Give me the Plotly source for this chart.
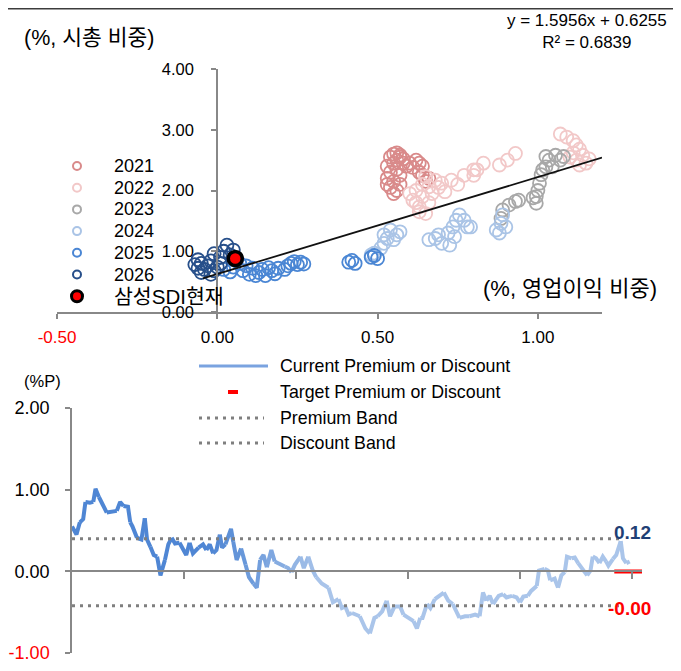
import plotly.graph_objects as go

W, H = 681, 671
OFF = 8                      # the page body margin the browser adds around the figure
FW, FH = W - OFF, H - OFF    # figure size so that it fills the window
FONT = "Liberation Sans, Arial, Noto Sans CJK KR, sans-serif"

# ---------------- data: scatter (operating-profit share vs market-cap share) -------------
years = ["2021", "2022", "2023", "2024", "2025", "2026"]
year_colors = ["#d98a8a", "#f2c8c8", "#a8a8a8", "#aac4e6", "#4a86d4", "#274f8a"]

x_2021 = [0.54, 0.55, 0.56, 0.57, 0.55, 0.53, 0.56, 0.58, 0.54, 0.53, 0.55, 0.54, 0.56, 0.53, 0.57,
          0.59, 0.60, 0.62, 0.63, 0.64, 0.63, 0.64, 0.66, 0.65, 0.57, 0.56, 0.58, 0.61, 0.55, 0.57]
y_2021 = [2.55, 2.60, 2.50, 2.58, 2.45, 2.40, 2.35, 2.45, 2.30, 2.20, 2.15, 2.05, 2.00, 2.10, 2.25,
          2.40, 2.45, 2.50, 2.45, 2.40, 2.30, 2.25, 2.20, 2.15, 2.55, 2.62, 2.52, 2.38, 1.95, 2.10]

x_2022 = [0.62, 0.64, 0.63, 0.65, 0.66, 0.68, 0.61, 0.65, 0.60, 0.62, 0.64, 0.66, 0.67, 0.63, 0.69,
          0.70, 0.73, 0.77, 0.80, 0.81, 0.83, 0.88, 0.905, 0.93, 0.80, 0.75, 0.71,
          1.07, 1.09, 1.11, 1.12, 1.13, 1.11, 1.14, 1.12, 1.15, 1.13, 1.10, 1.16]
y_2022 = [2.00, 1.90, 1.73, 1.62, 2.06, 2.17, 1.84, 2.23, 1.95, 1.80, 2.10, 1.80, 1.95, 1.65, 2.05,
          2.12, 2.17, 2.25, 2.34, 2.34, 2.45, 2.42, 2.50, 2.61, 2.25, 2.10, 1.98,
          2.93, 2.88, 2.82, 2.75, 2.68, 2.62, 2.58, 2.50, 2.45, 2.42, 2.55, 2.52]

x_2023 = [0.89, 0.91, 0.93, 0.885, 0.94, 0.995, 1.00, 1.005, 1.01, 1.025, 1.035, 1.055, 1.07, 1.025,
          0.985, 0.995, 1.045, 1.08, 1.015]
y_2023 = [1.68, 1.76, 1.82, 1.54, 1.84, 1.90, 2.00, 2.12, 2.26, 2.39, 2.50, 2.58, 2.50, 2.56,
          1.88, 1.79, 2.39, 2.56, 2.34]

x_2024 = [0.54, 0.56, 0.53, 0.52, 0.51, 0.49, 0.48, 0.57, 0.55, 0.52,
          0.66, 0.68, 0.70, 0.72, 0.735, 0.745, 0.755, 0.77, 0.78, 0.74, 0.725, 0.69, 0.79,
          0.87, 0.885, 0.89, 0.88, 0.90]
y_2024 = [1.35, 1.27, 1.21, 1.13, 1.05, 0.97, 0.94, 1.32, 1.19, 1.27,
          1.19, 1.21, 1.13, 1.30, 1.40, 1.51, 1.60, 1.51, 1.40, 1.24, 1.10, 1.27, 1.40,
          1.35, 1.46, 1.60, 1.30, 1.40]

x_2025 = [0.02, 0.05, 0.07, 0.08, 0.10, 0.11, 0.13, 0.14, 0.15, 0.17, 0.18, 0.19, 0.21, 0.22, 0.23,
          0.24, 0.25, 0.26, 0.27, 0.04, 0.09, 0.16, 0.12, 0.41, 0.42, 0.43, 0.48, 0.49, 0.50]
y_2025 = [0.70, 0.74, 0.80, 0.68, 0.62, 0.72, 0.65, 0.70, 0.60, 0.68, 0.63, 0.72, 0.70, 0.76, 0.80,
          0.83, 0.78, 0.82, 0.79, 0.66, 0.76, 0.73, 0.60, 0.82, 0.85, 0.80, 0.90, 0.93, 0.88]

x_2026 = [-0.07, -0.06, -0.05, -0.04, -0.03, -0.02, -0.01, 0.00, 0.01, -0.05, -0.02, 0.01, 0.02, 0.03,
          0.05, 0.04, -0.01, 0.06, -0.06]
y_2026 = [0.78, 0.72, 0.80, 0.70, 0.76, 0.84, 0.68, 0.74, 0.80, 0.65, 0.62, 0.90, 1.00, 1.10,
          1.02, 0.94, 0.96, 0.86, 0.86]

year_x = [x_2021, x_2022, x_2023, x_2024, x_2025, x_2026]
year_y = [y_2021, y_2022, y_2023, y_2024, y_2025, y_2026]

current_label = "삼성SDI현재"
current_x = [0.056]
current_y = [0.88]

slope, intercept, r2 = 1.5956, 0.6255, 0.6839
fit_x = [-0.045, 1.20]

top_x_ticks = [-0.5, 0.0, 0.5, 1.0]
top_y_ticks = [0, 1, 2, 3, 4]

# ---------------- data: premium / discount time series --------------------------------
t_years = [0.00, 0.04, 0.07, 0.10, 0.12, 0.16, 0.19, 0.21, 0.24, 0.27, 0.31, 0.37, 0.40, 0.43, 0.46,
           0.50, 0.52, 0.54, 0.58, 0.62, 0.65, 0.67, 0.70, 0.73, 0.76, 0.79, 0.83, 0.86, 0.89, 0.92,
           0.96, 1.02, 1.05, 1.08, 1.13, 1.17, 1.20, 1.23, 1.26, 1.29, 1.32, 1.34, 1.37, 1.42, 1.44,
           1.47, 1.51, 1.54, 1.55, 1.58, 1.62, 1.65, 1.68, 1.71, 1.74, 1.78, 1.81, 1.86, 1.90, 1.93,
           1.96, 1.99, 2.04, 2.07, 2.11, 2.15, 2.18, 2.23, 2.29, 2.33, 2.38, 2.41, 2.44, 2.47, 2.50,
           2.54, 2.57, 2.62, 2.66, 2.70, 2.73, 2.77, 2.81, 2.84, 2.88, 2.93, 2.96, 3.00, 3.05, 3.08,
           3.11, 3.13, 3.17, 3.20, 3.24, 3.29, 3.32, 3.36, 3.40, 3.43, 3.46, 3.51, 3.55, 3.60, 3.64,
           3.67, 3.70, 3.73, 3.76, 3.81, 3.85, 3.88, 3.93, 3.97, 4.00, 4.03, 4.07, 4.10, 4.15, 4.17,
           4.22, 4.25, 4.27, 4.31, 4.34, 4.37, 4.40, 4.42, 4.46, 4.49, 4.52, 4.57, 4.60, 4.63, 4.65,
           4.68, 4.71, 4.74, 4.77, 4.79, 4.83, 4.86, 4.90, 4.92, 4.95, 4.98]
premium = [0.55, 0.45, 0.60, 0.64, 0.85, 0.84, 0.85, 1.01, 0.91, 0.82, 0.72, 0.73, 0.74, 0.85, 0.80,
           0.79, 0.60, 0.55, 0.41, 0.39, 0.65, 0.39, 0.30, 0.20, 0.18, -0.05, 0.14, 0.33, 0.41, 0.34,
           0.35, 0.20, 0.35, 0.22, 0.29, 0.33, 0.26, 0.33, 0.22, 0.26, 0.45, 0.29, 0.33, 0.52, 0.36,
           0.14, 0.28, 0.10, 0.08, -0.07, -0.15, -0.20, 0.14, 0.20, 0.05, 0.26, 0.12, 0.08, 0.06, 0.04,
           -0.01, 0.08, 0.18, 0.04, 0.18, 0.01, -0.07, -0.15, -0.20, -0.38, -0.34, -0.45, -0.43, -0.53, -0.51,
           -0.53, -0.55, -0.70, -0.76, -0.57, -0.55, -0.49, -0.36, -0.55, -0.43, -0.43, -0.53, -0.57, -0.61, -0.70,
           -0.57, -0.57, -0.40, -0.45, -0.34, -0.28, -0.26, -0.36, -0.40, -0.49, -0.57, -0.55, -0.55, -0.53, -0.55,
           -0.26, -0.36, -0.30, -0.40, -0.30, -0.28, -0.32, -0.30, -0.32, -0.38, -0.31, -0.30, -0.24, -0.18, 0.01,
           0.03, 0.01, -0.11, -0.09, -0.20, -0.05, -0.01, 0.18, 0.16, 0.17, 0.10, 0.01, -0.05, 0.01, 0.18,
           0.16, 0.10, 0.18, 0.12, 0.07, 0.15, 0.20, 0.37, 0.16, 0.10, 0.12]
premium_band = 0.40
discount_band = -0.42
target_value = -0.002

bottom_y_ticks = [-1, 0, 1, 2]
bottom_x_ticks = [1, 2, 3, 4, 5]

legend2_labels = ["Current Premium or Discount", "Target Premium or Discount", "Premium Band", "Discount Band"]

# ---------------- layout helpers (window pixel -> paper) ------------------------------------
def PX(px):
    return (px - OFF) / FW

def PY(py):
    return 1 - (py - OFF) / FH

GRAY = "#888888"
fig = go.Figure()

# scatter by year
for yr, col, xs, ys in zip(years, year_colors, year_x, year_y):
    fig.add_trace(go.Scatter(x=xs, y=ys, mode="markers", name=yr, showlegend=False,
                             marker=dict(symbol="circle-open", size=13, color=col,
                                         line=dict(width=1.8, color=col)),
                             xaxis="x", yaxis="y"))

# regression line
fig.add_trace(go.Scatter(x=fit_x, y=[slope * v + intercept for v in fit_x], mode="lines",
                         line=dict(color="#111111", width=1.8), showlegend=False,
                         xaxis="x", yaxis="y"))

# current point
fig.add_trace(go.Scatter(x=current_x, y=current_y, mode="markers", name=current_label, showlegend=False,
                         marker=dict(symbol="circle", size=14, color="#ff0000",
                                     line=dict(width=3.5, color="#000000")),
                         xaxis="x", yaxis="y"))

# ---------------- bottom series: gradient coloured line -------------------------------------
c_dark = (79, 134, 212)
c_light = (170, 197, 234)
def mix(t):
    t = max(0.0, min(1.0, t))
    return "rgb(%d,%d,%d)" % tuple(round(a + (b - a) * t) for a, b in zip(c_dark, c_light))

n = len(t_years)
step = 2
for i in range(0, n - 1, step):
    j = min(i + step, n - 1)
    xm = (t_years[i] + t_years[j]) / 2
    fig.add_trace(go.Scatter(x=t_years[i:j + 1], y=premium[i:j + 1], mode="lines",
                             line=dict(color=mix((xm - 1.25) / 1.0), width=4),
                             showlegend=False, hoverinfo="skip", xaxis="x2", yaxis="y2"))

band_x = [t_years[0], t_years[-1] - 0.08]
for val in (premium_band, discount_band):
    fig.add_trace(go.Scatter(x=band_x, y=[val, val], mode="lines",
                             line=dict(color="#7f7f7f", width=3, dash="3px,5px"),
                             showlegend=False, xaxis="x2", yaxis="y2"))

# target marker
fig.add_trace(go.Scatter(x=[t_years[-1]], y=[target_value], mode="markers",
                         marker=dict(symbol="line-ew-open", size=22, color="#ff0000",
                                     line=dict(width=4, color="#ff0000")),
                         showlegend=False, xaxis="x2", yaxis="y2"))

# ---------------- axes ---------------------------------------------------------------------
top_dom_y = [PY(312), PY(69)]
bot_dom_y = [PY(653), PY(408)]
x2_pos = bot_dom_y[0] + (bot_dom_y[1] - bot_dom_y[0]) * (0 - (-1)) / 3.0

def ticktxt(vals):
    out = []
    for v in vals:
        s = f"{v:.2f}"
        if v < 0:
            s = f"<span style='color:#ff0000'>{s}</span>"
        out.append(s)
    return out

fig.update_layout(
    width=FW, height=FH, margin=dict(l=0, r=0, t=0, b=0, pad=0), autosize=False,
    paper_bgcolor="white", plot_bgcolor="white", showlegend=False,
    font=dict(family=FONT, size=17, color="#000000"),
    xaxis=dict(domain=[PX(57), PX(602)], range=[-0.5, 1.2], anchor="y", automargin=False,
               tickvals=top_x_ticks, ticktext=ticktxt(top_x_ticks),
               ticks="outside", ticklen=5, tickcolor=GRAY, tickwidth=1.5,
               showline=True, linecolor=GRAY, linewidth=1.5,
               showgrid=False, zeroline=False, tickfont=dict(size=17),
               ticklabelstandoff=4),
    yaxis=dict(domain=top_dom_y, range=[0, 4], anchor="free", position=PX(217), automargin=False,
               tickvals=top_y_ticks, ticktext=ticktxt(top_y_ticks),
               ticks="outside", ticklen=5, tickcolor=GRAY, tickwidth=1.5,
               showline=True, linecolor=GRAY, linewidth=1.5,
               showgrid=False, zeroline=False, tickfont=dict(size=16.5),
               ticklabelstandoff=14),
    xaxis2=dict(domain=[PX(72), PX(642)], range=[0, 5.09], anchor="free", position=x2_pos,
                automargin=False, tickvals=bottom_x_ticks, showticklabels=False,
                ticks="outside", ticklen=7, tickcolor=GRAY, tickwidth=1.5,
                showline=True, linecolor=GRAY, linewidth=1.5,
                showgrid=False, zeroline=False),
    yaxis2=dict(domain=bot_dom_y, range=[-1, 2], anchor="x2", automargin=False,
                tickvals=bottom_y_ticks, ticktext=ticktxt(bottom_y_ticks),
                ticks="outside", ticklen=5, tickcolor=GRAY, tickwidth=1.5,
                showline=True, linecolor=GRAY, linewidth=1.5,
                showgrid=False, zeroline=False, tickfont=dict(size=18),
                ticklabelstandoff=12),
)

ann = []
shapes = []

# titles
ann.append(dict(text="(%, 시총 비중)", x=PX(22), y=PY(38), xref="paper", yref="paper",
                xanchor="left", yanchor="middle", showarrow=False, font=dict(size=21.5)))
ann.append(dict(text="(%, 영업이익 비중)", x=PX(659), y=PY(288), xref="paper", yref="paper",
                xanchor="right", yanchor="middle", showarrow=False, font=dict(size=22)))
ann.append(dict(text="(%P)", x=PX(22), y=PY(381), xref="paper", yref="paper",
                xanchor="left", yanchor="middle", showarrow=False, font=dict(size=16.5)))
ann.append(dict(text=f"y = {slope}x + {intercept}<br>R² = {r2}", x=PX(587), y=PY(32),
                xref="paper", yref="paper", xanchor="center", yanchor="middle", align="center",
                showarrow=False, font=dict(size=17)))

# top legend (manual)
row0, dy = 166, 21.7
for i, (yr, col) in enumerate(zip(years, year_colors)):
    cy = row0 + dy * i
    shapes.append(dict(type="circle", xref="paper", yref="paper",
                       x0=PX(73), x1=PX(81), y0=PY(cy + 4), y1=PY(cy - 4),
                       line=dict(color=col, width=2), fillcolor="rgba(0,0,0,0)"))
    ann.append(dict(text=yr, x=PX(112), y=PY(cy), xref="paper", yref="paper",
                    xanchor="left", yanchor="middle", showarrow=False, font=dict(size=18)))
cy = row0 + dy * 6
shapes.append(dict(type="circle", xref="paper", yref="paper",
                   x0=PX(71.5), x1=PX(82.5), y0=PY(cy + 5.5), y1=PY(cy - 5.5),
                   line=dict(color="#000000", width=3), fillcolor="#ff0000"))
ann.append(dict(text=current_label, x=PX(112), y=PY(cy), xref="paper", yref="paper",
                xanchor="left", yanchor="middle", showarrow=False, font=dict(size=20.5)))

# bottom legend (manual)
rows = [366, 392, 418, 443]
shapes.append(dict(type="line", xref="paper", yref="paper", x0=PX(199), x1=PX(268),
                   y0=PY(rows[0]), y1=PY(rows[0]), line=dict(color="#7aa3e0", width=3)))
shapes.append(dict(type="line", xref="paper", yref="paper", x0=PX(228), x1=PX(238),
                   y0=PY(rows[1]), y1=PY(rows[1]), line=dict(color="#ff0000", width=4)))
for r in rows[2:]:
    shapes.append(dict(type="line", xref="paper", yref="paper", x0=PX(199), x1=PX(264),
                       y0=PY(r), y1=PY(r), line=dict(color="#7f7f7f", width=3, dash="3px,5px")))
for r, lab in zip(rows, legend2_labels):
    ann.append(dict(text=lab, x=PX(278), y=PY(r), xref="paper", yref="paper",
                    xanchor="left", yanchor="middle", showarrow=False, font=dict(size=17.8)))

# value labels
ann.append(dict(text=f"<b>{premium[-1]:.2f}</b>", x=t_years[-1], y=premium[-1], xref="x2", yref="y2",
                xanchor="center", yanchor="middle", yshift=29, xshift=3, showarrow=False,
                font=dict(size=19, color="#1f3f75")))
ann.append(dict(text=f"<b>{target_value:.2f}</b>", x=t_years[-1], y=target_value, xref="x2", yref="y2",
                xanchor="center", yanchor="middle", yshift=-37, xshift=0, showarrow=False,
                font=dict(size=19, color="#ff0000")))

# frame lines (top edge and right edge of the original capture)
shapes.append(dict(type="line", xref="paper", yref="paper", x0=0, x1=1, y0=1, y1=1,
                   line=dict(color="#3c3c3c", width=3)))
shapes.append(dict(type="line", xref="paper", yref="paper", x0=PX(676), x1=PX(676), y0=0, y1=1,
                   line=dict(color="#cfcfcf", width=2)))

fig.update_layout(annotations=ann, shapes=shapes)
fig.write_html("out.html")
